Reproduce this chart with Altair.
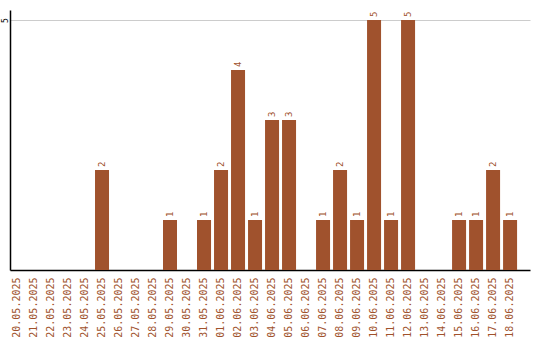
import altair as alt
import pandas as pd

dates = ["20.05.2025", "21.05.2025", "22.05.2025", "23.05.2025", "24.05.2025",
         "25.05.2025", "26.05.2025", "27.05.2025", "28.05.2025", "29.05.2025",
         "30.05.2025", "31.05.2025", "01.06.2025", "02.06.2025", "03.06.2025",
         "04.06.2025", "05.06.2025", "06.06.2025", "07.06.2025", "08.06.2025",
         "09.06.2025", "10.06.2025", "11.06.2025", "12.06.2025", "13.06.2025",
         "14.06.2025", "15.06.2025", "16.06.2025", "17.06.2025", "18.06.2025"]
counts = [0, 0, 0, 0, 0, 2, 0, 0, 0, 1, 0, 1, 2, 4, 1, 3, 3, 0, 1, 2,
          1, 5, 1, 5, 0, 0, 1, 1, 2, 1]
y_ticks = [5]

df = pd.DataFrame({"date": dates, "count": counts})

color = "#a0522d"
font = "DejaVu Sans Mono"

x = alt.X("date:N", sort=dates, title=None,
          scale=alt.Scale(paddingInner=0.176, paddingOuter=0.38, align=0),
          axis=alt.Axis(labelAngle=-90, labelColor=color, labelFont=font,
                        labelFontSize=10, ticks=False, labelPadding=7,
                        domainColor="#000000", domainWidth=1.5, grid=False))
y = alt.Y("count:Q", title=None,
          scale=alt.Scale(domain=[0, 5.2], nice=False),
          axis=alt.Axis(values=y_ticks, labelAngle=-90, labelAlign="center",
                        labelBaseline="alphabetic", labelPadding=3, ticks=False,
                        labelFont=font, labelFontSize=8, labelColor="#000000",
                        domainColor="#000000", domainWidth=1.5,
                        grid=True, gridColor="#cccccc"))

bars = alt.Chart(df).mark_bar(color=color).encode(x=x, y=y)
labels = alt.Chart(df).transform_filter("datum.count > 0").mark_text(
    angle=270, align="left", baseline="middle", dx=3,
    font=font, fontSize=9, color=color
).encode(x=alt.X("date:N", sort=dates), y="count:Q", text="count:Q")

chart = (bars + labels).properties(
    width=520, height=260,
    background="#ffffff",
    autosize=alt.AutoSizeParams(type="none"),
    padding={"left": 10, "top": 10, "right": 10, "bottom": 70},
).configure_view(stroke=None)

chart.save("out.html", embed_options={"renderer": "svg", "actions": False})
